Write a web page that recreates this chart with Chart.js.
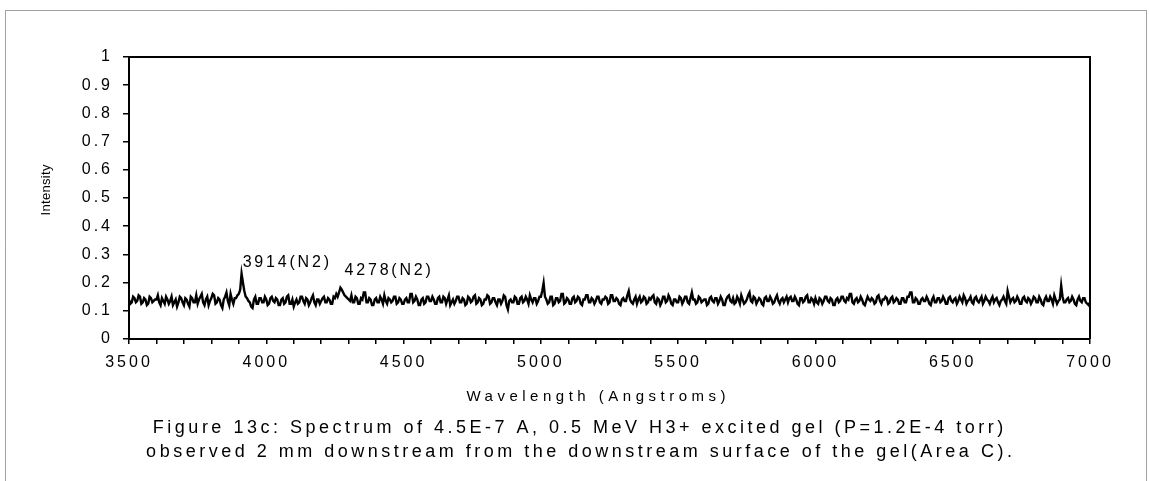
<!DOCTYPE html>
<html>
<head>
<meta charset="utf-8">
<script src="https://cdn.jsdelivr.net/npm/chart.js@4"></script>
<style>
  html, body { margin: 0; padding: 0; background: #fff; }
  #wrap { width: 1149px; height: 481px; position: relative; }
</style>
</head>
<body>
<div id="wrap"><canvas id="spectrumChart"></canvas></div>
<script>
const startWavelength = 3500;
const stepWavelength = 5;
const intensity = [
  0.14, 0.125, 0.13, 0.15, 0.145, 0.13, 0.135, 0.155, 0.15, 0.125, 0.13, 0.145, 0.14, 0.12, 0.125, 0.15, 0.145, 0.13, 0.135, 0.14,       // 3500
  0.14, 0.155, 0.13, 0.12, 0.145, 0.135, 0.125, 0.15, 0.14, 0.125, 0.135, 0.15, 0.12, 0.13, 0.14, 0.115, 0.13, 0.15, 0.145, 0.13,       // 3600
  0.12, 0.145, 0.14, 0.125, 0.115, 0.15, 0.145, 0.13, 0.13, 0.155, 0.125, 0.14, 0.15, 0.16, 0.13, 0.12, 0.14, 0.15, 0.12, 0.135,        // 3700
  0.145, 0.16, 0.155, 0.125, 0.13, 0.145, 0.14, 0.12, 0.11, 0.14, 0.15, 0.165, 0.135, 0.12, 0.16, 0.14, 0.125, 0.145, 0.145, 0.155,     // 3800
  0.16, 0.175, 0.232, 0.2, 0.17, 0.15, 0.145, 0.135, 0.13, 0.115, 0.11, 0.14, 0.15, 0.125, 0.125, 0.145, 0.145, 0.13, 0.13, 0.15,       // 3900
  0.14, 0.12, 0.125, 0.145, 0.15, 0.135, 0.13, 0.145, 0.14, 0.12, 0.12, 0.14, 0.145, 0.125, 0.13, 0.15, 0.155, 0.125, 0.125, 0.14,      // 4000
  0.115, 0.13, 0.14, 0.125, 0.13, 0.15, 0.15, 0.135, 0.125, 0.145, 0.14, 0.12, 0.13, 0.145, 0.155, 0.13, 0.12, 0.14, 0.14, 0.125,       // 4100
  0.135, 0.145, 0.15, 0.13, 0.13, 0.145, 0.14, 0.125, 0.125, 0.15, 0.145, 0.16, 0.15, 0.165, 0.182, 0.175, 0.165, 0.155, 0.15, 0.145,   // 4200
  0.14, 0.135, 0.155, 0.13, 0.13, 0.15, 0.145, 0.125, 0.125, 0.145, 0.14, 0.165, 0.165, 0.13, 0.13, 0.145, 0.14, 0.12, 0.12, 0.14,      // 4300
  0.145, 0.13, 0.13, 0.15, 0.14, 0.125, 0.155, 0.135, 0.125, 0.145, 0.14, 0.13, 0.135, 0.15, 0.15, 0.125, 0.13, 0.145, 0.14, 0.125,     // 4400
  0.125, 0.14, 0.145, 0.13, 0.13, 0.16, 0.16, 0.13, 0.135, 0.15, 0.14, 0.12, 0.12, 0.14, 0.145, 0.125, 0.13, 0.15, 0.15, 0.135,         // 4500
  0.135, 0.15, 0.14, 0.125, 0.125, 0.145, 0.15, 0.13, 0.13, 0.15, 0.145, 0.125, 0.14, 0.155, 0.12, 0.13, 0.14, 0.125, 0.135, 0.15,      // 4600
  0.15, 0.13, 0.13, 0.145, 0.14, 0.12, 0.125, 0.15, 0.145, 0.13, 0.135, 0.15, 0.155, 0.125, 0.13, 0.145, 0.14, 0.12, 0.125, 0.14,       // 4700
  0.14, 0.155, 0.15, 0.125, 0.13, 0.145, 0.145, 0.13, 0.12, 0.14, 0.14, 0.125, 0.135, 0.155, 0.15, 0.12, 0.105, 0.135, 0.14, 0.13,      // 4800
  0.13, 0.15, 0.145, 0.125, 0.125, 0.145, 0.15, 0.13, 0.135, 0.15, 0.14, 0.125, 0.155, 0.14, 0.13, 0.145, 0.145, 0.125, 0.135, 0.15,    // 4900
  0.15, 0.17, 0.198, 0.15, 0.14, 0.125, 0.13, 0.15, 0.15, 0.12, 0.125, 0.145, 0.145, 0.13, 0.135, 0.16, 0.16, 0.125, 0.13, 0.145,       // 5000
  0.14, 0.125, 0.125, 0.145, 0.15, 0.13, 0.135, 0.15, 0.145, 0.125, 0.12, 0.14, 0.14, 0.155, 0.155, 0.13, 0.13, 0.145, 0.14, 0.125,     // 5100
  0.135, 0.15, 0.15, 0.13, 0.125, 0.14, 0.14, 0.15, 0.145, 0.125, 0.13, 0.155, 0.155, 0.135, 0.135, 0.145, 0.14, 0.125, 0.12, 0.14,     // 5200
  0.145, 0.135, 0.135, 0.155, 0.17, 0.14, 0.13, 0.125, 0.14, 0.15, 0.125, 0.14, 0.15, 0.13, 0.135, 0.15, 0.145, 0.125, 0.13, 0.145,     // 5300
  0.14, 0.15, 0.155, 0.13, 0.125, 0.145, 0.14, 0.12, 0.13, 0.15, 0.15, 0.13, 0.135, 0.155, 0.145, 0.125, 0.12, 0.14, 0.14, 0.13,        // 5400
  0.13, 0.15, 0.145, 0.125, 0.135, 0.15, 0.15, 0.13, 0.125, 0.145, 0.165, 0.14, 0.14, 0.125, 0.13, 0.15, 0.145, 0.13, 0.135, 0.14,      // 5500
  0.14, 0.12, 0.125, 0.145, 0.15, 0.135, 0.13, 0.145, 0.145, 0.125, 0.135, 0.15, 0.14, 0.12, 0.12, 0.14, 0.15, 0.155, 0.135, 0.13,      // 5600
  0.145, 0.125, 0.13, 0.15, 0.14, 0.125, 0.155, 0.14, 0.125, 0.13, 0.14, 0.155, 0.165, 0.135, 0.13, 0.15, 0.145, 0.125, 0.135, 0.145,   // 5700
  0.14, 0.125, 0.12, 0.145, 0.15, 0.135, 0.135, 0.15, 0.14, 0.125, 0.13, 0.145, 0.155, 0.135, 0.125, 0.14, 0.145, 0.13, 0.14, 0.15,     // 5800
  0.13, 0.145, 0.15, 0.135, 0.135, 0.15, 0.14, 0.125, 0.12, 0.145, 0.145, 0.13, 0.135, 0.15, 0.155, 0.13, 0.13, 0.145, 0.14, 0.125,     // 5900
  0.145, 0.13, 0.125, 0.145, 0.14, 0.125, 0.135, 0.15, 0.15, 0.135, 0.13, 0.145, 0.14, 0.12, 0.12, 0.14, 0.145, 0.13, 0.135, 0.15,      // 6000
  0.15, 0.135, 0.13, 0.145, 0.14, 0.16, 0.16, 0.13, 0.125, 0.14, 0.145, 0.13, 0.135, 0.15, 0.14, 0.125, 0.12, 0.135, 0.15, 0.14,        // 6100
  0.135, 0.145, 0.14, 0.125, 0.13, 0.15, 0.155, 0.135, 0.125, 0.14, 0.14, 0.15, 0.145, 0.125, 0.13, 0.145, 0.15, 0.13, 0.135, 0.145,    // 6200
  0.14, 0.125, 0.125, 0.145, 0.145, 0.13, 0.13, 0.15, 0.15, 0.165, 0.165, 0.13, 0.13, 0.145, 0.14, 0.125, 0.125, 0.14, 0.145, 0.135,    // 6300
  0.135, 0.15, 0.14, 0.125, 0.12, 0.14, 0.15, 0.13, 0.13, 0.145, 0.145, 0.13, 0.135, 0.15, 0.14, 0.125, 0.125, 0.145, 0.15, 0.135,      // 6400
  0.13, 0.14, 0.145, 0.125, 0.135, 0.15, 0.14, 0.13, 0.155, 0.145, 0.125, 0.135, 0.14, 0.15, 0.13, 0.125, 0.145, 0.15, 0.135, 0.13,     // 6500
  0.14, 0.15, 0.125, 0.135, 0.15, 0.14, 0.135, 0.125, 0.14, 0.15, 0.13, 0.14, 0.145, 0.13, 0.12, 0.135, 0.14, 0.15, 0.135, 0.125,       // 6600
  0.17, 0.15, 0.13, 0.14, 0.145, 0.13, 0.135, 0.15, 0.14, 0.125, 0.125, 0.145, 0.15, 0.135, 0.13, 0.145, 0.14, 0.125, 0.135, 0.15,      // 6700
  0.145, 0.13, 0.13, 0.15, 0.14, 0.125, 0.12, 0.14, 0.15, 0.135, 0.135, 0.15, 0.14, 0.125, 0.155, 0.14, 0.125, 0.135, 0.14, 0.19,       // 6800
  0.15, 0.13, 0.13, 0.14, 0.145, 0.13, 0.135, 0.15, 0.14, 0.125, 0.12, 0.14, 0.15, 0.135, 0.13, 0.145, 0.145, 0.13, 0.125, 0.12,        // 6900
  0.13                                                                                                                                   // 7000
];

const xTickLabels = [3500, 4000, 4500, 5000, 5500, 6000, 6500, 7000];
const yTickLabels = ['0', '0.1', '0.2', '0.3', '0.4', '0.5', '0.6', '0.7', '0.8', '0.9', '1'];

// peak labels: text, wavelength where the text starts, height on the intensity scale
const peakLabels = ['3914(N2)', '4278(N2)'];
const peakWavelengths = [3914, 4285];
const peakLabelHeights = [0.27, 0.243];

const xTitle = 'Wavelength (Angstroms)';
const yTitle = 'Intensity';
const captionLines = [
  'Figure 13c: Spectrum of 4.5E-7 A, 0.5 MeV H3+ excited gel (P=1.2E-4 torr)',
  'observed 2 mm downstream from the downstream surface of the gel(Area C).'
];

const FONT = 'Arial, "Liberation Sans", sans-serif';

const points = intensity.map((v, i) => ({ x: startWavelength + i * stepWavelength, y: v }));

function drawSpaced(ctx, text, x, y, size, spacing, align) {
  ctx.save();
  ctx.font = size + 'px ' + FONT;
  ctx.letterSpacing = spacing + 'px';
  ctx.fillStyle = '#000';
  ctx.textBaseline = 'middle';
  let w = ctx.measureText(text).width;
  let sx = x;
  if (align === 'center') sx = x - (w - spacing) / 2;
  ctx.textAlign = 'left';
  ctx.fillText(text, sx, y);
  ctx.restore();
}

// frame, axis titles, caption and peak labels
const decorations = {
  id: 'decorations',
  beforeUpdate(chart) {
    chart.ctx.letterSpacing = '3px';
  },
  beforeDraw(chart) {
    chart.ctx.letterSpacing = '3px';
  },
  afterDraw(chart) {
    const ctx = chart.ctx;
    const area = chart.chartArea;
    const xs = chart.scales.x;
    const ys = chart.scales.y;
    ctx.save();
    ctx.strokeStyle = '#000';
    ctx.lineWidth = 2;
    ctx.beginPath();
    ctx.moveTo(area.left, area.top);
    ctx.lineTo(area.right, area.top);
    ctx.lineTo(area.right, area.bottom);
    ctx.stroke();

    // dotted outer frame
    ctx.lineWidth = 1;
    ctx.strokeStyle = '#444';
    ctx.setLineDash([1, 1]);
    ctx.strokeRect(5.5, 10.5, 1141, 490);
    ctx.restore();

    peakLabels.forEach((t, i) => {
      drawSpaced(ctx, t, xs.getPixelForValue(peakWavelengths[i]), ys.getPixelForValue(peakLabelHeights[i]), 16, 2.8, 'left');
    });

    drawSpaced(ctx, xTitle, 596, 397, 15, 4.5, 'center');
    drawSpaced(ctx, captionLines[0], 578, 428, 18, 3.5, 'center');
    drawSpaced(ctx, captionLines[1], 579, 452, 18, 3.5, 'center');

    ctx.save();
    ctx.translate(46, 190);
    ctx.rotate(-Math.PI / 2);
    drawSpaced(ctx, yTitle, 0, 0, 13, 0.3, 'center');
    ctx.restore();
  }
};

const ctx = document.getElementById('spectrumChart').getContext('2d');
const spectrumChart = new Chart(ctx, {
  type: 'line',
  data: {
    datasets: [{
      label: 'Intensity',
      data: points,
      borderColor: '#000',
      borderWidth: 2.4,
      pointRadius: 0,
      tension: 0,
      fill: false
    }]
  },
  options: {
    responsive: true,
    maintainAspectRatio: false,
    animation: false,
    layout: { padding: { top: 57, right: 59, left: 0, bottom: 0 } },
    plugins: {
      legend: { display: false },
      tooltip: { enabled: false }
    },
    scales: {
      x: {
        type: 'linear',
        min: 3500,
        max: 7000,
        afterFit(scale) { scale.height = 142; },
        border: { display: true, color: '#000', width: 2 },
        grid: { drawOnChartArea: false, drawTicks: true, tickLength: 5, color: '#000', lineWidth: 1.5 },
        ticks: {
          stepSize: 100,
          autoSkip: false,
          maxRotation: 0,
          padding: 9,
          color: '#000',
          font: { family: FONT, size: 16 },
          callback: (v) => xTickLabels.includes(v) ? String(v) : ''
        }
      },
      y: {
        min: 0,
        max: 1,
        afterFit(scale) { scale.width = 129; },
        border: { display: true, color: '#000', width: 2 },
        grid: { drawOnChartArea: false, drawTicks: true, tickLength: 6, color: '#000', lineWidth: 1.5 },
        ticks: {
          stepSize: 0.1,
          padding: 10,
          color: '#000',
          font: { family: FONT, size: 16 },
          callback: (v) => yTickLabels[Math.round(v * 10)]
        }
      }
    }
  },
  plugins: [decorations]
});
</script>
</body>
</html>
